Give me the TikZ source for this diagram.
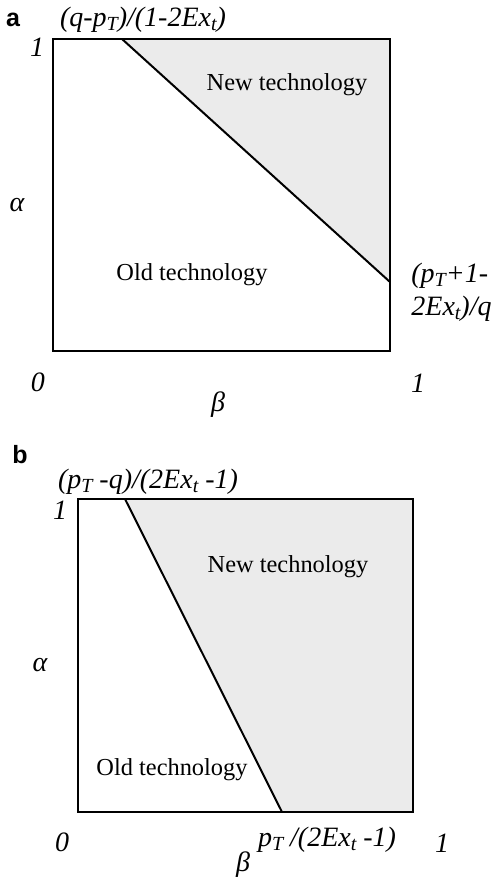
\documentclass[tikz,border=0pt]{standalone}
\usepackage{fontspec}
\setmainfont{Liberation Serif}
\setsansfont{Liberation Sans}
\usepackage{tikz}
\usetikzlibrary{positioning}
\newcommand{\lowidx}[1]{\raisebox{-0.3ex}{\fontsize{10}{10}\selectfont #1}}

\begin{document}
\begin{tikzpicture}[
		x=0.5pt, y=-0.5pt,
		frame/.style={draw, line width=1pt},
		border/.style={line width=1pt},
		newarea/.style={fill=gray!16},
		lbl/.style={font=\fontsize{14}{16.5}\selectfont\itshape, inner sep=0pt},
		region/.style={font=\fontsize{12.2}{14}\selectfont, inner sep=0pt},
		tag/.style={font=\fontsize{12.5}{14}\selectfont\sffamily\bfseries, inner sep=0pt}
		]
		\useasboundingbox (0,0) rectangle (497,882);
		
		% panel a
		\coordinate (aSW) at (53,351);
		\coordinate (aNE) at (390,39);
		\coordinate (aTop) at (122,39);
		\coordinate (aRight) at (390,282);
		\fill[newarea] (aTop) -- (aNE) -- (aRight) -- cycle;
		\draw[frame] (aSW) rectangle (aNE);
		\draw[border] (aTop) -- (aRight);
		
		\node[tag] (tagA) at (13,20) {a};
		\node[lbl] (aTopLbl) at (143,20) {(q-p\lowidx{T})/(1-2Ex\lowidx{t})};
		\node[lbl] (aOneY) at (37,47) {1};
		\node[lbl] (aAlpha) at (17,205) {α};
		\node[region] (aNew) at (287,85) {New technology};
		\node[region] (aOld) at (192,275) {Old technology};
		\node[lbl, anchor=west, align=left] (aRightLbl) at (411,292) {(p\lowidx{T}+1-\\2Ex\lowidx{t})/q};
		\node[lbl] (aZero) at (38,382) {0};
		\node[lbl] (aOneX) at (418,383) {1};
		\node[lbl] (aBeta) at (218,405) {β};
		
		% panel b
		\coordinate (bSW) at (78,812);
		\coordinate (bNE) at (413,499);
		\coordinate (bTop) at (125,499);
		\coordinate (bBot) at (282,812);
		\fill[newarea] (bTop) -- (bNE) -- (bNE |- bSW) -- (bBot) -- cycle;
		\draw[frame] (bSW) rectangle (bNE);
		\draw[border] (bTop) -- (bBot);
		
		\node[tag] (tagB) at (20,455) {b};
		\node[lbl] (bTopLbl) at (148,482) {(p\lowidx{T} -q)/(2Ex\lowidx{t} -1)};
		\node[lbl] (bOneY) at (60,510) {1};
		\node[lbl] (bAlpha) at (40,665) {α};
		\node[region] (bNew) at (288,567) {New technology};
		\node[region] (bOld) at (172,770) {Old technology};
		\node[lbl] (bZero) at (62,842) {0};
		\node[lbl] (bBotLbl) at (327,840) {p\lowidx{T} /(2Ex\lowidx{t} -1)};
		\node[lbl] (bOneX) at (442,843) {1};
		\node[lbl] (bBeta) at (243,865) {β};
		
	\end{tikzpicture}
\end{document}
